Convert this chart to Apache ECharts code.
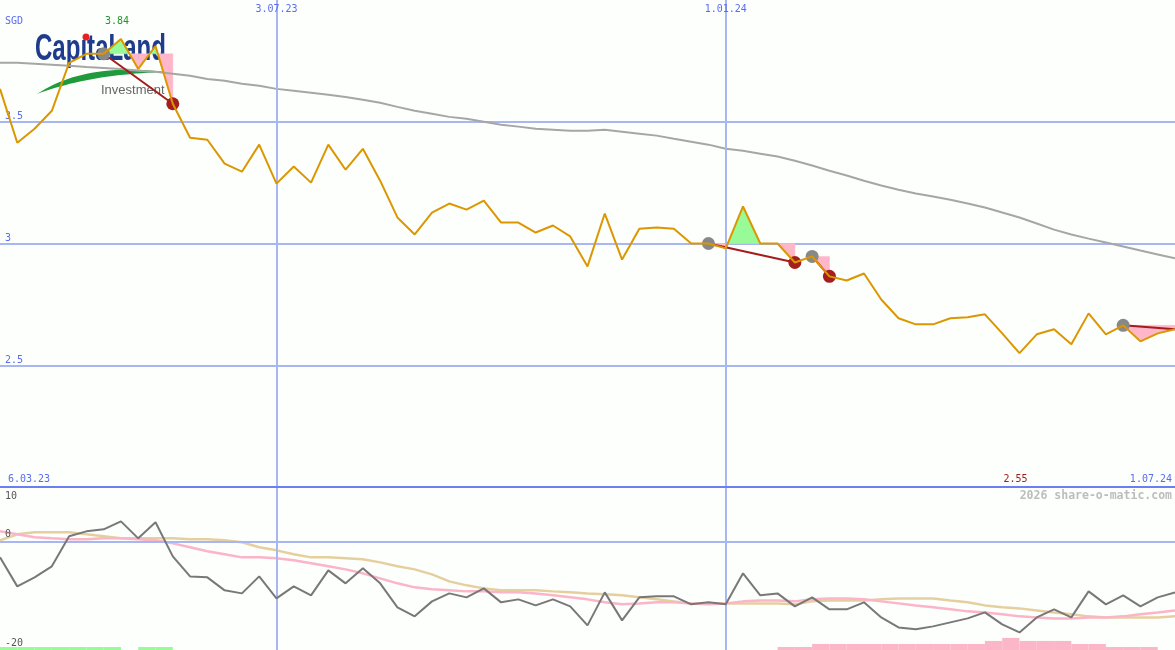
<!DOCTYPE html>
<html><head><meta charset="utf-8">
<script src="https://cdn.jsdelivr.net/npm/echarts/dist/echarts.min.js"></script>
<style>html,body{margin:0;padding:0;background:#fcfffc;}#c{width:1175px;height:650px;}</style>
</head><body><div id="c"></div>
<script>
// ---- data (weekly points, index 0 .. 68) ----
const price = [3.635,3.414,3.471,3.545,3.742,3.779,3.779,3.84,3.717,3.811,
  3.574,3.434,3.426,3.328,3.295,3.406,3.246,3.316,3.25,3.406,
  3.303,3.389,3.258,3.107,3.037,3.127,3.164,3.139,3.176,3.086,
  3.086,3.045,3.074,3.029,2.906,3.123,2.934,3.061,3.066,3.061,
  3.00,3.00,2.98,3.152,3.00,3.00,2.922,2.947,2.865,2.848,
  2.877,2.77,2.693,2.668,2.668,2.693,2.697,2.709,2.631,2.55,
  2.627,2.648,2.586,2.713,2.627,2.664,2.598,2.631,2.648];
const longMA = [3.742,3.742,3.738,3.734,3.730,3.725,3.721,3.717,3.709,3.705,
  3.697,3.689,3.676,3.668,3.656,3.648,3.635,3.627,3.619,3.611,
  3.602,3.590,3.578,3.561,3.545,3.533,3.520,3.512,3.500,3.488,
  3.480,3.471,3.467,3.463,3.463,3.467,3.459,3.451,3.443,3.430,
  3.418,3.406,3.389,3.381,3.369,3.357,3.340,3.320,3.299,3.279,
  3.258,3.238,3.221,3.205,3.193,3.180,3.164,3.148,3.127,3.107,
  3.082,3.057,3.037,3.020,3.004,2.988,2.971,2.955,2.939];
const oscillator = [-2.95,-8.29,-6.63,-4.60,0.92,1.84,2.21,3.68,0.55,3.50,
  -2.76,-6.45,-6.63,-9.02,-9.58,-6.45,-10.5,-8.29,-9.94,-5.34,
  -7.73,-4.97,-7.73,-12.15,-13.81,-11.05,-9.58,-10.31,-8.66,-11.23,
  -10.68,-11.79,-10.68,-11.97,-15.47,-9.39,-14.55,-10.31,-10.13,-10.13,
  -11.60,-11.23,-11.60,-5.89,-9.94,-9.58,-11.97,-10.31,-12.52,-12.52,
  -11.23,-14.0,-15.84,-16.2,-15.65,-14.92,-14.18,-13.08,-15.29,-16.76,
  -14.0,-12.52,-14.0,-9.21,-11.60,-9.94,-11.97,-10.31,-9.39];
const oscFast = [1.84,1.29,0.74,0.55,0.37,0.37,0.55,0.55,0.37,0.18,
  -0.37,-1.10,-1.84,-2.39,-2.95,-2.95,-3.13,-3.50,-4.05,-4.60,
  -5.16,-5.89,-6.81,-7.73,-8.47,-8.84,-9.02,-9.21,-9.21,-9.39,
  -9.39,-9.58,-9.94,-10.31,-10.68,-11.23,-11.60,-11.42,-11.23,-11.23,
  -11.42,-11.60,-11.42,-11.05,-10.87,-10.87,-11.05,-10.68,-10.50,-10.50,
  -10.68,-11.05,-11.42,-11.79,-12.15,-12.52,-12.89,-13.08,-13.44,-13.81,
  -14.0,-14.18,-14.18,-14.0,-14.0,-13.81,-13.44,-13.08,-12.71];
const oscSlow = [0.18,1.29,1.66,1.66,1.66,1.29,0.92,0.55,0.55,0.55,
  0.55,0.37,0.37,0.18,-0.18,-1.10,-1.66,-2.39,-2.95,-2.95,
  -3.13,-3.31,-3.87,-4.60,-5.16,-6.08,-7.37,-8.10,-8.66,-9.02,
  -9.02,-9.02,-9.21,-9.39,-9.58,-9.76,-9.94,-10.31,-10.68,-11.05,
  -11.42,-11.42,-11.42,-11.42,-11.42,-11.42,-11.60,-11.05,-10.87,-10.87,
  -10.87,-10.68,-10.50,-10.50,-10.50,-10.87,-11.23,-11.79,-12.15,-12.34,
  -12.71,-13.08,-13.44,-13.81,-14.0,-14.0,-14.0,-14.0,-13.81];
// per-week signal bars (interval i -> i+1); + = green, - = pink
const signalBars = [1,1,1,1,1,1,1,0,1,1,
  0,0,0,0,0,0,0,0,0,0, 0,0,0,0,0,0,0,0,0,0, 0,0,0,0,0,0,0,0,0,0, 0,0,0,0,0,
  -1,-1,-2,-2,-2,-2,-2,-2,-2,-2,-2,-2,-3,-4,-3,-3,-3,-2,-2,-1,-1,-1,0];
const signalStart = [6,41,47,65];
const signalEnd = [10,46,48,68];
const signalClosed = [true,true,true,false];
const dateTickIdx = [0,16,42,68];
const dateTickText = ['6.03.23','3.07.23','1.01.24','1.07.24'];
const priceTicks = [2.5,3,3.5];
const lowerTicks = [10,0,-20];

// ---- styling ----
const MONO = '"DejaVu Sans Mono", monospace';
const BLUE = '#5a6cf0';
const GRID = '#a8b6f4';
const pts = arr => arr.map((v,i)=>[i,v]);
const hiIdx = price.indexOf(Math.max(...price));
const loIdx = price.indexOf(Math.min(...price));

function fillItem(params, api){
  const k = params.dataIndex, s = signalStart[k], e = signalEnd[k], ref = price[s];
  const ch = [];
  const poly = (p, pos) => { const c = pos ? '#98fb98' : '#ffb6c8';
    ch.push({type:'polygon', shape:{points:p.map(q=>api.coord(q))}, style:{fill:c, stroke:c, lineWidth:0.5}}); };
  for (let i=s;i<e;i++){
    const d0 = price[i]-ref, d1 = price[i+1]-ref;
    if (d0===0 && d1===0) continue;
    if (d0*d1 >= 0) poly([[i,ref],[i,price[i]],[i+1,price[i+1]],[i+1,ref]], d0+d1>0);
    else { const xc = i + d0/(d0-d1);
      poly([[i,ref],[i,price[i]],[xc,ref]], d0>0);
      poly([[xc,ref],[i+1,price[i+1]],[i+1,ref]], d1>0); }
  }
  return {type:'group', children:ch};
}
function signalLine(params, api){
  const k = params.dataIndex;
  const a = api.coord([signalStart[k], price[signalStart[k]]]);
  const b = api.coord([signalEnd[k], price[signalEnd[k]]]);
  return {type:'line', shape:{x1:a[0],y1:a[1],x2:b[0],y2:b[1]}, style:{stroke:'#a51c1c', lineWidth:2}};
}
function mainLabels(params, api){
  const ch = [];
  const t = (text,x,y,fill,align,va) => ch.push({type:'text', style:{text, x, y, fill, font:'10px '+MONO, align, verticalAlign:va}});
  for (let j=1;j<dateTickIdx.length-1;j++){ const p = api.coord([dateTickIdx[j],4]); t(dateTickText[j], p[0], p[1]+9, BLUE, 'center','middle'); }
  const b0 = api.coord([dateTickIdx[0],2]); t(dateTickText[0], b0[0]+8, b0[1]-8, BLUE, 'left','middle');
  const L = dateTickIdx.length-1; const bn = api.coord([dateTickIdx[L],2]); t(dateTickText[L], bn[0]-3, bn[1]-8, BLUE, 'right','middle');
  const hi = api.coord([hiIdx,4]); t(price[hiIdx].toFixed(2), hi[0]-4, hi[1]+21, '#22962a', 'center','middle');
  const lo = api.coord([loIdx,2]); t(price[loIdx].toFixed(2), lo[0]-4, lo[1]-8, '#a01c1c', 'center','middle');
  return {type:'group', children:ch};
}
function lowerLabels(params, api){
  const ch = [];
  lowerTicks.forEach((v,j)=>{ const p = api.coord([0,v]);
    const top = j===0;
    ch.push({type:'text', style:{text:String(v), x:5, y: top ? p[1]+4 : p[1]-2, fill:'#555', font:'10px '+MONO, align:'left', verticalAlign: top?'top':'bottom'}}); });
  return {type:'group', children:ch};
}
function barItem(params, api){
  const i = api.value(0), h = api.value(1);
  const p0 = api.coord([i,0]), p1 = api.coord([i+1,Math.abs(h)]);
  return {type:'rect', shape:{x:p0[0], y:p1[1], width:p1[0]-p0[0], height:p0[1]-p1[1]}, style:{fill: h>0 ? '#98fb98' : '#fbb6c8'}};
}
// logo swoosh outline (decorative)
function quad(p0,c,p1,n){ const r=[]; for(let k=0;k<=n;k++){ const t=k/n, u=1-t;
  r.push([u*u*p0[0]+2*u*t*c[0]+t*t*p1[0], u*u*p0[1]+2*u*t*c[1]+t*t*p1[1]]); } return r; }
const swoosh = quad([37,94],[85,62],[166,72],24).concat(quad([166,72],[90,74],[37,94],24));

const chart = echarts.init(document.getElementById('c'));
chart.setOption({
  animation:false,
  backgroundColor:'#fcfffc',
  grid:[{left:0,right:0,top:0,height:487},{left:0,right:0,top:487,height:163}],
  xAxis:[{gridIndex:0,type:'value',min:0,max:68,show:false},{gridIndex:1,type:'value',min:0,max:68,show:false}],
  yAxis:[
    {gridIndex:0,type:'value',min:2,max:4,interval:0.5,axisLine:{show:false},axisTick:{show:false},
     axisLabel:{inside:true,margin:5,verticalAlign:'bottom',color:BLUE,fontFamily:'DejaVu Sans Mono',fontSize:10,
       showMinLabel:false,showMaxLabel:false,formatter:v=>priceTicks.includes(v)?String(v):''},
     splitLine:{show:true,showMinLine:false,showMaxLine:false,lineStyle:{color:GRID,width:2}}},
    {gridIndex:1,type:'value',min:-20,max:10,show:false},
    {gridIndex:1,type:'value',min:0,max:54,show:false}
  ],
  graphic:[
    {type:'polygon', z:0, shape:{points:swoosh}, style:{fill:'#1f9a3c'}},
    {type:'text', z:0, x:35, y:31, scaleX:0.65, style:{text:'Cap\u0131taLand', font:'bold 37px "Liberation Sans", Arial, sans-serif', fill:'#1f3c8c', verticalAlign:'top'}},
    {type:'circle', z:0, shape:{cx:86,cy:37,r:3.5}, style:{fill:'#e52222'}},
    {type:'text', z:0, x:101, y:90, style:{text:'Investment', font:'13px "Liberation Sans", Arial, sans-serif', fill:'#666', verticalAlign:'middle'}},
    {type:'text', x:5, y:21, style:{text:'SGD', font:'10px '+MONO, fill:BLUE, verticalAlign:'middle'}},
    {type:'text', x:1172, y:496, style:{text:'2026 share-o-matic.com', font:'bold 11.5px '+MONO, fill:'#bdbdbd', align:'right', verticalAlign:'middle'}}
  ],
  series:[
    {type:'custom', xAxisIndex:0, yAxisIndex:0, z:2, renderItem:fillItem, encode:{x:0,y:1},
     data:signalStart.map(s=>[s,price[s]]), silent:true},
    {type:'line', xAxisIndex:0, yAxisIndex:0, z:3, data:pts(longMA), symbol:'none', lineStyle:{color:'#a6a6a6',width:2}, silent:true,
     markLine:{silent:true, symbol:['none','none'], label:{show:false}, lineStyle:{color:GRID,width:2,type:'solid'},
       data:[{xAxis:dateTickIdx[1]},{xAxis:dateTickIdx[2]},{yAxis:2,lineStyle:{color:'#6c7ef0',width:2,type:'solid'}}]}},
    {type:'custom', xAxisIndex:0, yAxisIndex:0, z:4, renderItem:signalLine, encode:{x:0,y:1},
     data:signalStart.map(s=>[s,price[s]]), silent:true},
    {type:'scatter', xAxisIndex:0, yAxisIndex:0, z:5, symbolSize:13, itemStyle:{color:'#888888',opacity:1},
     data:signalStart.map(s=>[s,price[s]]), silent:true},
    {type:'scatter', xAxisIndex:0, yAxisIndex:0, z:5, symbolSize:13, itemStyle:{color:'#a51e1e',opacity:1},
     data:signalEnd.filter((e,k)=>signalClosed[k]).map(e=>[e,price[e]]), silent:true},
    {type:'line', xAxisIndex:0, yAxisIndex:0, z:6, data:pts(price), symbol:'none', lineStyle:{color:'#dc9700',width:2}, silent:true},
    {type:'custom', xAxisIndex:0, yAxisIndex:0, z:7, renderItem:mainLabels, encode:{x:0,y:1}, data:[[0,3]], silent:true},

    {type:'custom', xAxisIndex:1, yAxisIndex:2, z:2, renderItem:barItem, encode:{x:0,y:1},
     data:signalBars.map((h,i)=>[i,h]).filter(d=>d[1]!==0), silent:true},
    {type:'line', xAxisIndex:1, yAxisIndex:1, z:3, data:pts(oscSlow), symbol:'none', lineStyle:{color:'#e6cf9f',width:2.5}, silent:true,
     markLine:{silent:true, symbol:['none','none'], label:{show:false}, lineStyle:{color:GRID,width:2,type:'solid'},
       data:[{xAxis:dateTickIdx[1]},{xAxis:dateTickIdx[2]},{yAxis:0},{yAxis:10,lineStyle:{color:'#6c7ef0',width:2,type:'solid'}}]}},
    {type:'line', xAxisIndex:1, yAxisIndex:1, z:4, data:pts(oscFast), symbol:'none', lineStyle:{color:'#fbb4c8',width:2.5}, silent:true},
    {type:'line', xAxisIndex:1, yAxisIndex:1, z:5, data:pts(oscillator), symbol:'none', lineStyle:{color:'#787878',width:2}, silent:true},
    {type:'custom', xAxisIndex:1, yAxisIndex:1, z:7, renderItem:lowerLabels, encode:{x:0,y:1}, data:[[0,0]], silent:true}
  ]
});
</script></body></html>
